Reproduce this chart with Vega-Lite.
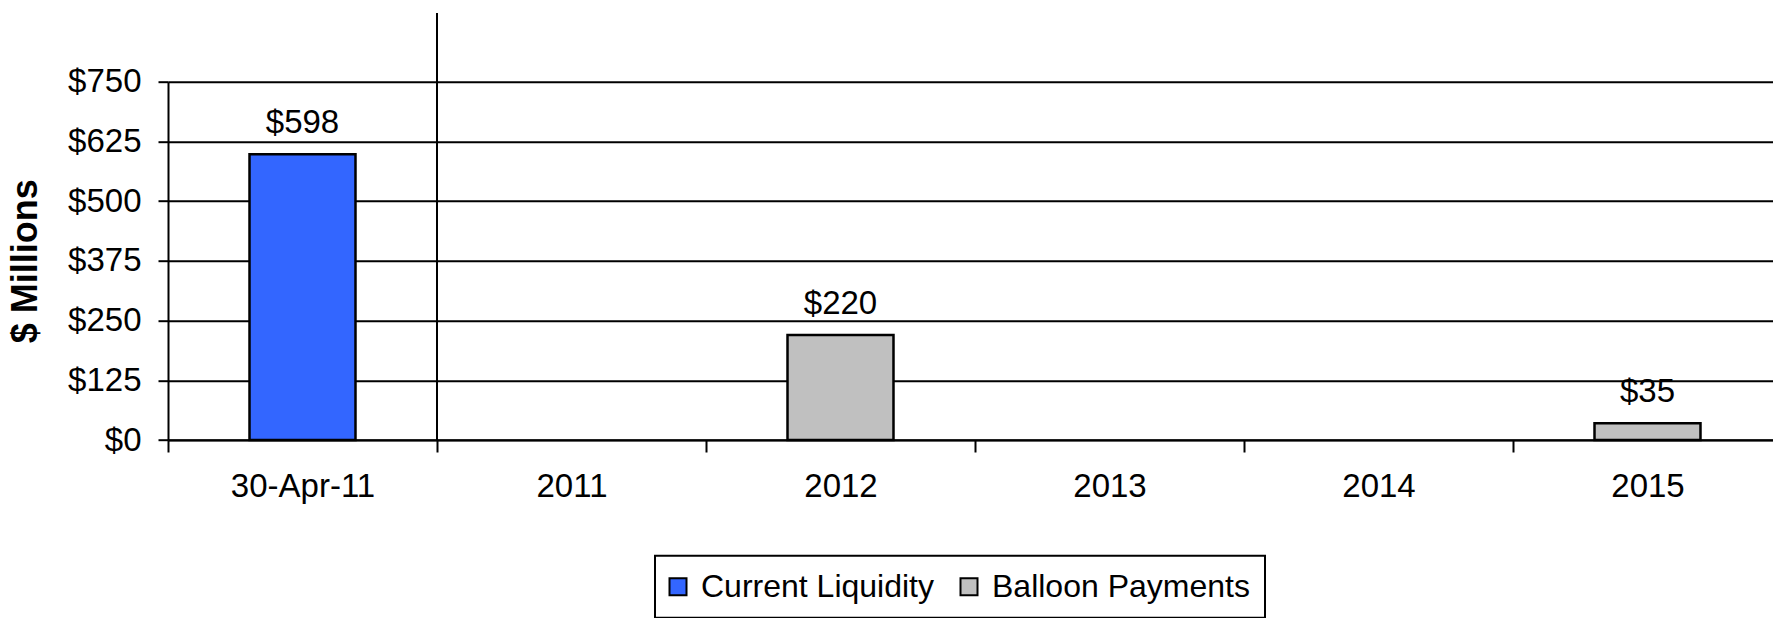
{
  "$schema": "https://vega.github.io/schema/vega-lite/v6.json",
  "width": 1605,
  "height": 358.3,
  "autosize": {"type": "none"},
  "padding": {"left": 168, "top": 81.7, "right": 0, "bottom": 178},
  "background": "white",
  "config": {
    "view": {"stroke": null},
    "font": "Liberation Sans",
    "legend": {"strokeWidth": 2}
  },
  "data": {
    "values": [
      {"period": "30-Apr-11", "series": "Current Liquidity", "value": 598},
      {"period": "2012", "series": "Balloon Payments", "value": 220},
      {"period": "2015", "series": "Balloon Payments", "value": 35}
    ]
  },
  "layer": [
    {
      "mark": {"type": "bar", "width": {"band": 0.394}, "stroke": "black", "strokeWidth": 2.5},
      "encoding": {
        "x": {
          "field": "period", "type": "nominal", "sort": null,
          "scale": {"domain": ["30-Apr-11", "2011", "2012", "2013", "2014", "2015"], "range": [0, 1614], "paddingInner": 0, "paddingOuter": 0},
          "axis": {
            "title": null, "labelAngle": 0, "grid": false,
            "domainColor": "black", "domainWidth": 2,
            "tickColor": "black", "tickWidth": 2, "tickSize": 12, "tickBand": "extent",
            "labelFontSize": 33, "labelColor": "black", "labelPadding": 18
          }
        },
        "y": {
          "field": "value", "type": "quantitative",
          "scale": {"domain": [0, 750], "nice": false, "zero": true},
          "axis": {
            "values": [0, 125, 250, 375, 500, 625, 750],
            "format": "$,.0f",
            "grid": true, "gridColor": "black", "gridWidth": 2, "gridOpacity": 1,
            "domainColor": "black", "domainWidth": 2,
            "tickColor": "black", "tickWidth": 2, "tickSize": 10,
            "labelFontSize": 33, "labelColor": "black", "labelPadding": 17,
            "title": "$ Millions", "titleFontSize": 36, "titleFontWeight": "bold", "titleColor": "black",
            "titleX": -143, "titleY": 179, "titleAngle": -90, "titleAlign": "center", "titleBaseline": "middle"
          }
        },
        "color": {
          "field": "series", "type": "nominal",
          "scale": {"domain": ["Current Liquidity", "Balloon Payments"], "range": ["#3366FF", "#C0C0C0"]},
          "legend": {
            "orient": "none", "legendX": 487, "legendY": 474,
            "direction": "horizontal", "title": null,
            "symbolType": "square", "symbolSize": 289, "symbolStrokeColor": "black", "symbolStrokeWidth": 2, "symbolOpacity": 1,
            "symbolOffset": -8,
            "labelFontSize": 32, "labelColor": "black", "labelOffset": 7, "columnPadding": 22, "labelLimit": 0,
            "padding": 15, "strokeColor": "black"
          }
        }
      }
    },
    {
      "mark": {"type": "text", "dy": -21, "fontSize": 33, "baseline": "alphabetic", "color": "black"},
      "encoding": {
        "x": {"field": "period", "type": "nominal", "sort": null},
        "y": {"field": "value", "type": "quantitative"},
        "text": {"field": "value", "type": "quantitative", "format": "$,.0f"}
      }
    },
    {
      "data": {"values": [{"period": "2011"}]},
      "mark": {"type": "rule", "strokeWidth": 2, "color": "black"},
      "encoding": {
        "x": {"field": "period", "type": "nominal", "bandPosition": 0},
        "y": {"datum": 0},
        "y2": {"datum": 894}
      }
    }
  ]
}
